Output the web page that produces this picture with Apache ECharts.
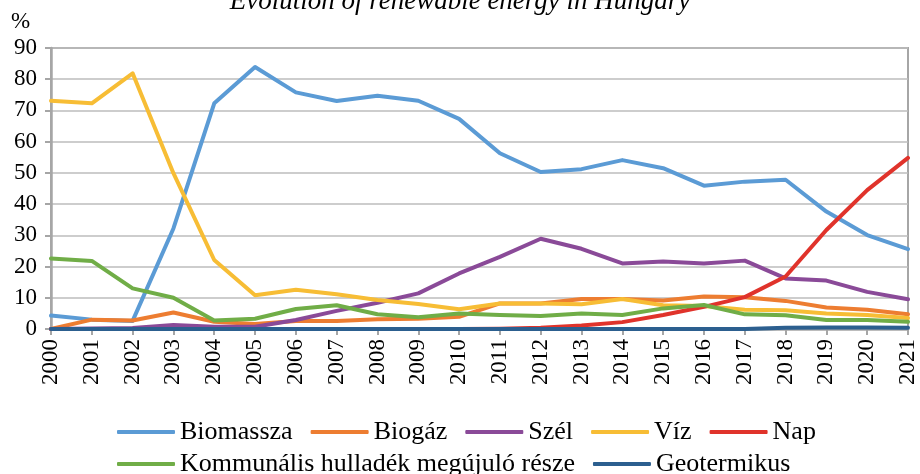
<!DOCTYPE html>
<html>
<head>
<meta charset="utf-8">
<script src="https://cdn.jsdelivr.net/npm/echarts@6/dist/echarts.min.js"></script>
<style>
html,body{margin:0;padding:0;background:#fff;}
#chart{width:920px;height:474px;}
</style>
</head>
<body>
<div id="chart"></div>
<script>
const years = ['2000','2001','2002','2003','2004','2005','2006','2007','2008','2009','2010','2011','2012','2013','2014','2015','2016','2017','2018','2019','2020','2021'];
const biomassza = [4.3,3.0,2.6,32.2,72.3,83.9,75.8,73.0,74.7,73.1,67.3,56.3,50.3,51.2,54.1,51.5,45.9,47.2,47.8,37.6,30.1,25.6];
const biogaz = [0,3.0,2.7,5.3,2.3,1.6,2.6,2.6,3.1,3.3,3.9,8.2,8.2,9.6,9.6,9.1,10.4,10.2,9.0,6.9,6.2,4.7];
const szel = [0,0.2,0.3,1.3,0.7,0.7,2.9,5.8,8.4,11.4,17.8,23.1,28.9,25.7,21.0,21.6,21.0,21.9,16.2,15.5,11.9,9.5];
const viz = [73.1,72.3,81.9,49.9,22.1,10.8,12.6,11.1,9.3,8.0,6.3,8.2,8.2,7.9,9.6,7.6,7.4,6.2,6.0,5.0,4.5,3.5];
const nap = [0,0,0,0,0,0,0,0,0,0,0,0.1,0.4,1.1,2.2,4.5,7.1,10.2,16.8,31.7,44.5,54.8];
const kommunalis = [22.6,21.8,13.0,10.0,2.7,3.3,6.4,7.6,4.7,3.8,5.0,4.5,4.2,5.0,4.5,6.6,7.7,4.7,4.4,2.9,2.9,2.3];
const geotermikus = [0,0,0,0,0,0,0,0,0,0,0,0,0,0,0,0,0,0,0.4,0.5,0.5,0.4];
const yTicks = [0,10,20,30,40,50,60,70,80,90];

const seriesDefs = [
  ['Biomassza', biomassza, '#5B9BD5'],
  ['Biogáz', biogaz, '#ED7D31'],
  ['Szél', szel, '#8A4A98'],
  ['Víz', viz, '#F7BD35'],
  ['Nap', nap, '#E0332B'],
  ['Kommunális hulladék megújuló része', kommunalis, '#70AD47'],
  ['Geotermikus', geotermikus, '#2C5F8F']
];

const FONT = 'Liberation Serif';
const chart = echarts.init(document.getElementById('chart'), null, {renderer:'canvas'});
const legendCommon = {
  icon: 'roundRect',
  itemWidth: 58,
  itemHeight: 4,
  itemGap: 18,
  left: 112,
  textStyle: {fontFamily: FONT, fontSize: 26, color: '#000'}
};
chart.setOption({
  animation: false,
  backgroundColor: '#fff',
  title: {
    text: 'Evolution of renewable energy in Hungary',
    left: 'center',
    top: -17,
    textStyle: {fontFamily: FONT, fontSize: 27, fontStyle: 'italic', fontWeight: 'normal', color: '#000'}
  },
  graphic: [{
    type: 'text', left: 11, top: 10,
    style: {text: '%', font: '23px "Liberation Serif"', fill: '#000'}
  }],
  legend: [
    Object.assign({}, legendCommon, {top: 414, data: ['Biomassza','Biogáz','Szél','Víz','Nap']}),
    Object.assign({}, legendCommon, {top: 446, data: ['Kommunális hulladék megújuló része','Geotermikus']})
  ],
  grid: {
    left: 51, right: 12, top: 48, bottom: 145,
    show: true, borderColor: '#A6A6A6', borderWidth: 2
  },
  xAxis: {
    type: 'category',
    data: years,
    boundaryGap: false,
    axisLine: {lineStyle: {color: '#A6A6A6', width: 2.5}},
    axisTick: {show: true, length: 6, lineStyle: {color: '#A6A6A6', width: 2}},
    axisLabel: {rotate: 90, margin: 10, fontFamily: FONT, fontSize: 23, color: '#000'},
    splitLine: {show: false}
  },
  yAxis: {
    type: 'value',
    min: yTicks[0], max: yTicks[yTicks.length-1], interval: 10,
    axisLine: {show: true, lineStyle: {color: '#A6A6A6', width: 2.5}},
    axisTick: {show: true, length: 6, lineStyle: {color: '#A6A6A6', width: 2}},
    axisLabel: {margin: 14, fontFamily: FONT, fontSize: 23, color: '#000'},
    splitLine: {show: true, lineStyle: {color: '#BDBDBD', width: 1.5}}
  },
  series: seriesDefs.map(([name, data, color]) => ({
    name: name,
    type: 'line',
    data: data,
    showSymbol: false,
    symbol: 'none',
    color: color,
    lineStyle: {color: color, width: 4, cap: 'round', join: 'round'},
    itemStyle: {color: color}
  }))
});
</script>
</body>
</html>
